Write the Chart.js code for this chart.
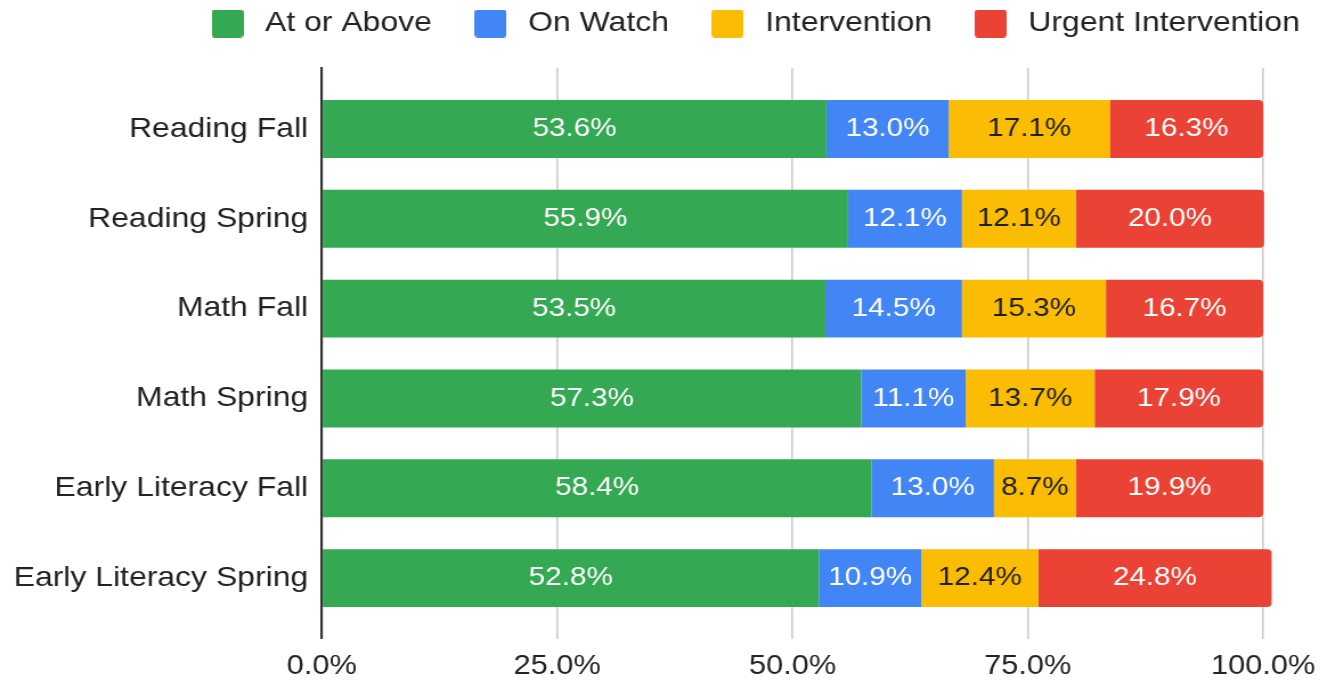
<!DOCTYPE html>
<html><head><meta charset="utf-8">
<script src="https://cdn.jsdelivr.net/npm/chart.js@4"></script>
<style>
html,body{margin:0;padding:0;background:#fff;overflow:hidden;width:1321px;height:682px}
#wrap{position:absolute;left:0;top:0;width:1159px;height:682px;transform:scaleX(1.14);transform-origin:0 0}
canvas{display:block}
</style></head><body>
<div id="wrap"><canvas id="c" width="1159" height="682"></canvas></div>
<script>
const categories = ['Reading Fall','Reading Spring','Math Fall','Math Spring','Early Literacy Fall','Early Literacy Spring'];
const atOrAbove    = [53.6, 55.9, 53.5, 57.3, 58.4, 52.8];
const onWatch      = [13.0, 12.1, 14.5, 11.1, 13.0, 10.9];
const intervention = [17.1, 12.1, 15.3, 13.7,  8.7, 12.4];
const urgent       = [16.3, 20.0, 16.7, 17.9, 19.9, 24.8];
const seriesNames  = ['At or Above','On Watch','Intervention','Urgent Intervention'];
const xTickValues  = [0, 25, 50, 75, 100];

const seriesValues = [atOrAbove, onWatch, intervention, urgent];
const seriesColors = ['#34A853','#4285F4','#FBBC04','#EA4335'];
const labelColors  = ['#ffffff','#ffffff','#1f1f1f','#ffffff'];

Chart.defaults.font.family = '"Liberation Sans", Arial, sans-serif';
Chart.defaults.color = '#222222';

function swatch(color) {
  const c = document.createElement('canvas');
  c.width = 28; c.height = 28;
  const g = c.getContext('2d');
  g.fillStyle = color;
  g.beginPath();
  g.roundRect(0, 0, 28, 28, 3);
  g.fill();
  return c;
}

const datasets = seriesValues.map((vals, s) => ({
  label: seriesNames[s],
  data: vals.map((v, i) => ({x: v, y: i})),
  backgroundColor: seriesColors[s],
  pointStyle: swatch(seriesColors[s]),
  borderWidth: 0,
  borderRadius: s === seriesValues.length - 1 ? 4 : 0,
  borderSkipped: 'start',
  clip: false,
  categoryPercentage: 1,
  barPercentage: 0.645
}));

const valueLabels = {
  id: 'valueLabels',
  afterDatasetsDraw(chart) {
    const ctx = chart.ctx;
    ctx.save();
    ctx.font = '26px "Liberation Sans", Arial, sans-serif';
    ctx.textAlign = 'center';
    ctx.textBaseline = 'middle';
    chart.data.datasets.forEach((ds, di) => {
      const meta = chart.getDatasetMeta(di);
      ctx.fillStyle = labelColors[di];
      meta.data.forEach((el, i) => {
        const c = el.getCenterPoint();
        ctx.fillText(ds.data[i].x.toFixed(1) + '%', c.x, c.y);
      });
    });
    ctx.restore();
  }
};

const legendPlacement = {
  id: 'legendPlacement',
  afterLayout(chart) {
    const lg = chart.legend;
    const dx = 148 - lg.left;
    lg.left += dx; lg.right += dx + 300;
    lg.top -= 23; lg.bottom -= 23;
  }
};

new Chart(document.getElementById('c'), {
  type: 'bar',
  data: { datasets },
  plugins: [valueLabels, legendPlacement],
  options: {
    indexAxis: 'y',
    responsive: false,
    devicePixelRatio: 1,
    animation: false,
    layout: { padding: { left: 0, right: 51, top: 0, bottom: -13 } },
    plugins: {
      tooltip: { enabled: false },
      legend: {
        position: 'top',
        align: 'start',
        maxHeight: 68,
        labels: {
          usePointStyle: true,
          pointStyleWidth: 38,
          boxHeight: 28,
          padding: 32.5,
          color: '#222222',
          font: { size: 28 }
        }
      }
    },
    scales: {
      x: {
        type: 'linear',
        stacked: true,
        min: 0, max: 100,
        afterBuildTicks: s => { s.ticks = xTickValues.map(v => ({value: v})); },
        afterFit: s => { s.paddingRight = 0; },
        ticks: {
          callback: v => Number(v).toFixed(1) + '%',
          font: { size: 27 },
          color: '#222222',
          padding: 12,
          maxRotation: 0
        },
        grid: { color: '#cccccc', lineWidth: 1.6, drawTicks: false },
        border: { display: false }
      },
      y: {
        type: 'linear',
        stacked: true,
        reverse: true,
        offset: false,
        min: -0.6785, max: 5.673,
        afterBuildTicks: s => { s.ticks = categories.map((_, i) => ({value: i})); },
        ticks: {
          callback: v => categories[v],
          font: { size: 28 },
          color: '#222222',
          padding: 12,
          autoSkip: false
        },
        grid: { display: false, drawTicks: false, offset: false },
        border: { display: true, color: '#333333', width: 2 }
      }
    }
  }
});
</script>
</body></html>
